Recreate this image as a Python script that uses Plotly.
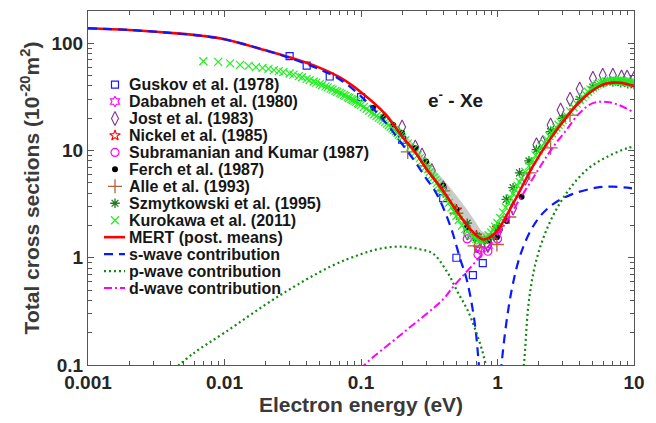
import plotly.graph_objects as go

# ---------------- MERT fit and partial-wave contributions (eV, 1e-20 m^2) -----------
mert_e = [0.001, 0.002, 0.004, 0.007, 0.01, 0.02, 0.03, 0.05, 0.07, 0.1, 0.15, 0.2, 0.25,
          0.3, 0.4, 0.5, 0.6, 0.7, 0.78, 0.9, 1.0, 1.2, 1.4, 1.8, 2.4, 3.2, 4.0, 5.0, 6.0,
          7.0, 8.0, 9.0, 10.0]
mert_s = [138, 133, 125, 117, 109, 86, 74, 59, 48, 35, 22, 13.5, 9.6,
          6.8, 4.2, 2.75, 2.0, 1.62, 1.48, 1.58, 1.8, 2.65, 3.8, 7.0, 12.5, 20.5, 28.5, 36.5, 41.5,
          43, 42.8, 41.5, 40]

band_e = [0.15, 0.2, 0.25, 0.3, 0.4, 0.5, 0.6, 0.7, 0.78, 0.9, 1.0, 1.2]
band_lo = [21, 13, 9.3, 6.5, 4.0, 2.6, 1.9, 1.55, 1.42, 1.5, 1.75, 2.6]
band_hi = [23.5, 15, 11, 8.0, 5.4, 3.8, 2.8, 2.1, 1.75, 1.7, 1.9, 2.7]

swave_e = [0.001, 0.002, 0.004, 0.007, 0.01, 0.02, 0.03, 0.05, 0.07, 0.1, 0.15, 0.2, 0.25, 0.3,
           0.36, 0.45, 0.53, 0.6, 0.68, 0.73, 0.8, 0.9, 1.0, 1.07, 1.27, 1.52, 1.93, 2.5, 3.5,
           5.3, 7.0, 8.9, 10.0]
swave_s = [138, 133, 125, 117, 109, 86, 73, 57, 46, 32, 18.5, 11.5, 7.8, 5.5,
           3.9, 2.0, 1.0, 0.6, 0.25, 0.1, 0.02, 0.002, 0.02, 0.1, 0.5, 1.2, 2.2, 3.1, 3.9,
           4.5, 4.6, 4.5, 4.4]

pwave_e = [0.004, 0.006, 0.01, 0.025, 0.06, 0.1, 0.14, 0.2, 0.27, 0.335, 0.43, 0.51, 0.6,
           0.7, 0.82, 0.95, 1.15, 1.4, 1.56, 1.7, 1.93, 2.4, 3.2, 4.5, 6.3, 8.9, 10.0]
pwave_s = [0.085, 0.13, 0.2, 0.44, 0.83, 1.08, 1.22, 1.27, 1.2, 1.1, 0.73, 0.48, 0.33,
           0.2, 0.1, 0.02, 0.002, 0.03, 0.1, 0.4, 0.96, 2.1, 4.0, 6.6, 8.7, 10.5, 10.9]

dwave_e = [0.1, 0.106, 0.2, 0.4, 0.47, 0.78, 1.03, 1.22, 1.45, 1.8, 2.14, 2.53, 3.2, 4.0, 5.0,
           6.3, 7.8, 9.8, 10.0]
dwave_s = [0.09, 0.1, 0.196, 0.41, 0.53, 1.1, 1.73, 2.4, 3.5, 5.4, 7.7, 10.6, 15.6, 22.4, 27.7,
           28.4, 26.5, 22.9, 22.5]

# ---------------- measurements ----------------
guskov_e = [0.03, 0.04, 0.059, 0.1, 0.2, 0.4, 0.5, 0.66, 0.78]
guskov_s = [76, 62, 49, 31.5, 12.6, 3.6, 1.0, 0.69, 0.89]

dababneh_e = [0.74, 0.85]
dababneh_s = [1.2, 1.3]

jost_e = [0.2, 0.25, 0.28, 0.33, 0.4, 0.6, 0.71, 0.85, 1.03, 1.3, 1.6, 1.93, 2.14, 2.45, 2.9,
          3.4, 4.0, 5.0, 5.9, 7.0, 8.1, 8.9, 10.0]
jost_s = [16.6, 10.8, 9.1, 6.5, 4.5, 1.7, 1.29, 1.3, 1.83, 2.9, 5.5, 11.3, 11.8, 17.3, 23.9,
          30, 37.4, 47.3, 50.4, 50.4, 48.4, 48.4, 47]

nickel_e = [0.5, 0.7, 1.0]
nickel_s = [2.8, 1.6, 1.9]

subram_e = [0.6, 0.72, 0.85, 1.0]
subram_s = [1.5, 1.07, 1.15, 1.5]

ferch_e = [0.123, 0.145, 0.172, 0.2, 0.25, 0.3, 0.4, 0.5, 0.59, 0.69, 0.76, 0.86, 0.99, 1.17, 1.5]
ferch_s = [24.9, 20.6, 17.3, 14.6, 10.5, 7.9, 4.7, 2.8, 1.9, 1.52, 1.48, 1.45, 1.55, 2.2, 3.7]

alle_e = [0.22, 0.3, 0.4, 0.5, 0.68, 0.76, 0.99, 1.22, 1.72, 2.45, 3.4]
alle_s = [9.7, 7.2, 4.2, 2.6, 1.29, 1.25, 1.33, 2.4, 6.2, 10.6, 21.4]

szmyt_e = [0.6, 0.7, 0.8, 0.9, 1.0, 1.16, 1.3, 1.45, 1.7, 1.93, 2.45, 3.0, 4.0, 5.0, 6.0,
           7.0, 8.0, 9.0, 10.0]
szmyt_s = [2.1, 1.6, 1.45, 1.55, 1.9, 3.5, 4.5, 6.2, 8.0, 10.2, 15, 20, 30, 39, 43,
           43.5, 43, 42, 41]

kuro_e = [0.007, 0.009, 0.011, 0.013, 0.015, 0.017, 0.019, 0.021, 0.023, 0.025, 0.027, 0.03,
          0.032, 0.035, 0.037, 0.04, 0.042, 0.045, 0.047, 0.05, 0.052, 0.055, 0.057, 0.06,
          0.062, 0.065, 0.067, 0.07, 0.072, 0.075, 0.077, 0.08, 0.082, 0.085, 0.087, 0.09,
          0.092, 0.095, 0.097, 0.1, 0.105, 0.11, 0.115, 0.12, 0.125, 0.13, 0.135, 0.14,
          0.145, 0.15, 0.155, 0.16, 0.165, 0.17, 0.175, 0.18, 0.185, 0.19, 0.195, 0.2,
          0.21, 0.22, 0.23, 0.24, 0.25, 0.26, 0.27, 0.28, 0.29, 0.3, 0.31, 0.32, 0.33,
          0.34, 0.35, 0.36, 0.37, 0.38, 0.39, 0.4, 0.42, 0.44, 0.46, 0.48, 0.5, 0.52,
          0.55, 0.58, 0.6, 0.63, 0.65, 0.68, 0.7, 0.72, 0.75, 0.78, 0.8, 0.83, 0.86, 0.9,
          0.93, 0.96, 1.0, 1.05, 1.1, 1.15, 1.2, 1.25, 1.3, 1.35, 1.4, 1.45, 1.5, 1.6, 1.7,
          1.8, 1.9, 2.0, 2.1, 2.2, 2.3, 2.4, 2.5, 2.6, 2.7, 2.8, 2.9, 3.0, 3.2, 3.4, 3.6,
          3.8, 4.0, 4.2, 4.4, 4.6, 4.8, 5.0, 5.2, 5.4, 5.6, 5.8, 6.0, 6.25, 6.5, 6.75,
          7.0, 7.25, 7.5, 7.75, 8.0, 8.25, 8.5, 8.75, 9.0, 9.25, 9.5, 9.75, 10.0]
kuro_s = [68, 67, 65, 63, 61.6, 60, 59, 57.7, 56.2, 55, 53.8, 52.3,
          51, 49.4, 48.2, 46.5, 45.3, 44, 42.9, 41.8, 40.8, 39.6, 38.8, 37.8,
          37, 36, 35.3, 34.5, 33.8, 33, 32.3, 31.5, 30.9, 30.2, 29.6, 29,
          28.4, 27.7, 27.2, 26.5, 25.5, 24.5, 23.5, 22.6, 21.8, 21, 20.3, 19.6,
          19, 18.4, 17.8, 17.2, 16.6, 16.1, 15.6, 15.1, 14.6, 14.1, 13.6, 13.2,
          12.4, 11.6, 10.9, 10.2, 9.6, 9.0, 8.5, 8.0, 7.5, 7.1, 6.7, 6.3, 5.9,
          5.6, 5.3, 5.0, 4.75, 4.5, 4.25, 4.0, 3.6, 3.25, 2.95, 2.7, 2.45, 2.25,
          2.0, 1.85, 1.75, 1.65, 1.6, 1.53, 1.5, 1.47, 1.45, 1.47, 1.5, 1.55, 1.62, 1.72,
          1.82, 1.95, 2.1, 2.35, 2.65, 2.95, 3.25, 3.6, 3.95, 4.3, 4.7, 5.1, 5.5, 6.3, 7.2,
          8.1, 9.0, 10.0, 10.9, 11.8, 12.7, 13.6, 14.5, 15.5, 16.4, 17.4, 18.3, 19.3, 21.3, 23.3, 25.3,
          27.4, 29.5, 31.5, 33.5, 35.3, 37, 38.6, 40, 41.1, 42, 42.8, 43.5, 44, 44.5, 44.7,
          44.8, 44.8, 44.8, 44.7, 44.5, 44.3, 44, 43.8, 43.5, 43.2, 43, 42.8, 42.5]

x_ticks = [0.001, 0.01, 0.1, 1, 10]
x_ticklabels = ["0.001", "0.01", "0.1", "1", "10"]
y_ticks = [0.1, 1, 10, 100]
y_ticklabels = ["0.1", "1", "10", "100"]

FONT = "Liberation Sans, Arial, Helvetica, sans-serif"
TXT = "#262626"

fig = go.Figure()

# uncertainty band of the MERT fit
fig.add_trace(go.Scatter(x=band_e, y=band_lo, mode="lines", line=dict(width=0, shape="spline"),
                         showlegend=False, hoverinfo="skip"))
fig.add_trace(go.Scatter(x=band_e, y=band_hi, mode="lines", line=dict(width=0, shape="spline"),
                         fill="tonexty", fillcolor="rgba(190,190,190,0.8)", showlegend=False,
                         hoverinfo="skip"))

# marker styles, in legend order
st_guskov = dict(symbol="square-open", size=7, color="#1a1aff", line=dict(width=1.2))
st_dababneh = dict(symbol="hexagram-open", size=8, color="#ff00ff", line=dict(width=1.1))
st_jost = dict(symbol="diamond-tall-open", size=10, color="#7b3294", line=dict(width=1.1))
st_nickel = dict(symbol="star-open", size=8, color="#ff0000", line=dict(width=1.1))
st_subram = dict(symbol="circle-open", size=8, color="#ff00ff", line=dict(width=1.2))
st_ferch = dict(symbol="circle", size=6, color="#000000")
st_alle = dict(symbol="cross-thin", size=10, line=dict(color="#b0603a", width=1.3))
st_szmyt = dict(symbol="asterisk", size=8, line=dict(color="#1e7a1e", width=1.3))
st_kuro = dict(symbol="x-thin", size=8, line=dict(color="#22ee22", width=1.2))

datasets = [
    (guskov_e, guskov_s, st_guskov),
    (dababneh_e, dababneh_s, st_dababneh),
    (jost_e, jost_s, st_jost),
    (nickel_e, nickel_s, st_nickel),
    (subram_e, subram_s, st_subram),
    (ferch_e, ferch_s, st_ferch),
    (alle_e, alle_s, st_alle),
    (szmyt_e, szmyt_s, st_szmyt),
    (kuro_e, kuro_s, st_kuro),
]
for xe, ys, mk in datasets:
    fig.add_trace(go.Scatter(x=xe, y=ys, mode="markers", marker=mk, showlegend=False))

lines = [
    (mert_e, mert_s, dict(color="#ff0000", width=2.6, shape="spline")),
    (swave_e, swave_s, dict(color="#0a1aff", width=2.2, dash="9px,6px", shape="spline")),
    (pwave_e, pwave_s, dict(color="#118811", width=2.2, dash="2px,3px", shape="spline")),
    (dwave_e, dwave_s, dict(color="#ff00ff", width=2.0, dash="8px,3px,2px,3px", shape="spline")),
]
for xe, ys, ln in lines:
    fig.add_trace(go.Scatter(x=xe, y=ys, mode="lines", line=ln, showlegend=False))

# ---------------- legend key, drawn on a pixel overlay ----------------
legend_names = ["Guskov et al. (1978)", "Dababneh et al. (1980)", "Jost et al. (1983)",
                "Nickel et al. (1985)", "Subramanian and Kumar (1987)", "Ferch et al. (1987)",
                "Alle et al. (1993)", "Szmytkowski et al. (1995)", "Kurokawa et al. (2011)",
                "MERT (post. means)", "s-wave contribution", "p-wave contribution",
                "d-wave contribution"]
row0, row_step, key_x, text_x = 84, 17.05, 115, 127
rows = [row0 + i * row_step for i in range(len(legend_names))]

for i, (_, _, mk) in enumerate(datasets):
    fig.add_trace(go.Scatter(x=[key_x], y=[rows[i]], mode="markers", marker=mk,
                             xaxis="x2", yaxis="y2", showlegend=False, hoverinfo="skip"))
for j, (_, _, ln) in enumerate(lines):
    lk = {k: v for k, v in ln.items() if k != "shape"}
    fig.add_trace(go.Scatter(x=[104, 125], y=[rows[9 + j]] * 2, mode="lines", line=lk,
                             xaxis="x2", yaxis="y2", showlegend=False, hoverinfo="skip"))

annotations = []
for name, yy in zip(legend_names, rows):
    annotations.append(dict(x=text_x, y=yy, xref="x2", yref="y2", text=name, showarrow=False,
                            xanchor="left", yanchor="middle",
                            font=dict(family=FONT, size=16, color="#161616", weight="bold")))
annotations.append(dict(x=426, y=98, xref="x2", yref="y2", text="e<sup>-</sup> - Xe",
                        showarrow=False, xanchor="left", yanchor="middle",
                        font=dict(family=FONT, size=19, color="#1a1a1a", weight="bold")))

minor_x = [m * 10 ** p for p in (-3, -2, -1, 0) for m in range(2, 10)]
minor_y = [m * 10 ** p for p in (-1, 0, 1) for m in range(2, 10)] + [200]

axis_common = dict(type="log", showline=True, linecolor="#555555", linewidth=1.2,
                   mirror="allticks", ticks="inside", ticklen=6, tickcolor="#555555",
                   showgrid=False, zeroline=False,
                   tickfont=dict(family=FONT, size=19, color=TXT, weight="bold"))

fig.update_layout(
    width=656, height=423,
    margin=dict(l=88, r=22, t=10, b=57),
    paper_bgcolor="white", plot_bgcolor="white",
    showlegend=False,
    xaxis=dict(axis_common, range=[-3, 1], tickmode="array", tickvals=x_ticks,
               ticktext=x_ticklabels,
               minor=dict(tickmode="array", tickvals=minor_x, ticks="inside", ticklen=3.5,
                          tickcolor="#555555"),
               title=dict(text="Electron energy (eV)", standoff=5,
                          font=dict(family=FONT, size=21, color="#3a3a3a", weight="bold"))),
    yaxis=dict(axis_common, range=[-1, 2.30103], tickmode="array", tickvals=y_ticks,
               ticktext=y_ticklabels,
               minor=dict(tickmode="array", tickvals=minor_y, ticks="inside", ticklen=3.5,
                          tickcolor="#555555"),
               title=dict(text="Total cross sections (10<sup>-20</sup>m<sup>2</sup>)", standoff=6,
                          font=dict(family=FONT, size=21, color="#3a3a3a", weight="bold"))),
    xaxis2=dict(overlaying="x", range=[88, 634], visible=False, fixedrange=True),
    yaxis2=dict(overlaying="y", range=[366, 10], visible=False, fixedrange=True),
    annotations=annotations,
)

fig.write_html("out.html")
